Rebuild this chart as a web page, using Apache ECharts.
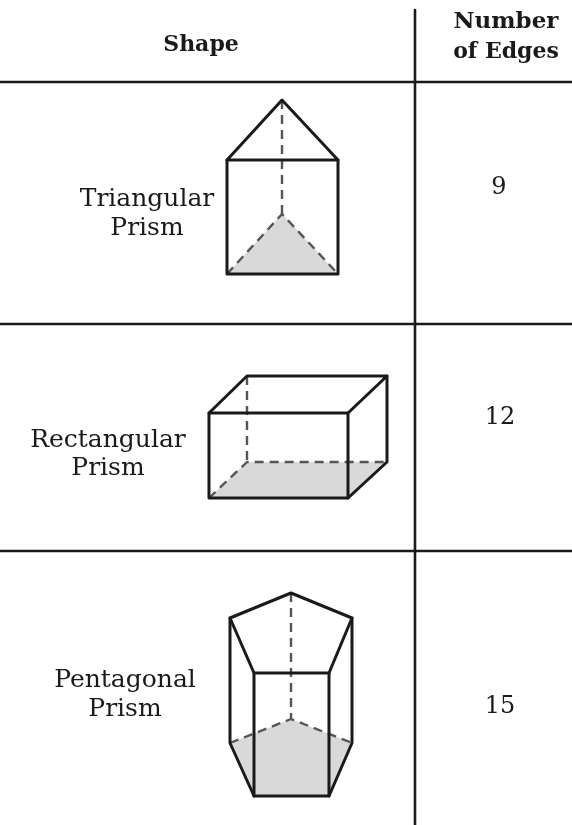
<!DOCTYPE html>
<html>
<head>
<meta charset="utf-8">
<script src="https://cdn.jsdelivr.net/npm/echarts@6/dist/echarts.min.js"></script>
<style>
html, body { margin: 0; padding: 0; background: #fff; }
#main { width: 572px; height: 825px; filter: blur(0.6px); }
</style>
</head>
<body>
<div id="main"></div>
<script>
// table text
var headerShape = "Shape";
var headerEdges = ["Number", "of Edges"];
var shapeNames = [["Triangular", "Prism"], ["Rectangular", "Prism"], ["Pentagonal", "Prism"]];
var edgeCounts = ["9", "12", "15"];

// table rules
var ruleRows = [82, 324, 551];
var ruleColumn = 415;

// triangular prism
var triFill = [[227, 274], [282, 214], [338, 274]];
var triSolid = [
    [[227, 160], [282, 100], [338, 160], [227, 160]],
    [[227, 160], [227, 274], [338, 274], [338, 160]]
];
var triDashed = [
    [[282, 100], [282, 214]],
    [[227, 274], [282, 214], [338, 274]]
];

// rectangular prism
var rectFill = [[209, 498], [247, 462], [387, 462], [348, 498]];
var rectSolid = [
    [[209, 413], [348, 413], [348, 498], [209, 498], [209, 413]],
    [[209, 413], [247, 376], [387, 376], [348, 413]],
    [[387, 376], [387, 462], [348, 498]]
];
var rectDashed = [
    [[247, 376], [247, 462]],
    [[209, 498], [247, 462], [387, 462]]
];

// pentagonal prism
var pentFill = [[230, 743], [291, 719], [352, 743], [329, 796], [254, 796]];
var pentSolid = [
    [[230, 618], [291, 593], [352, 618], [329, 673], [254, 673], [230, 618]],
    [[230, 618], [230, 743], [254, 796], [329, 796], [352, 743], [352, 618]],
    [[254, 673], [254, 796]],
    [[329, 673], [329, 796]]
];
var pentDashed = [
    [[291, 593], [291, 719]],
    [[230, 743], [291, 719], [352, 743]]
];

var serif = '"DejaVu Serif", serif';
var ink = '#1a1a1a';

function solid(points, width) {
    return {
        type: 'line', data: points, symbol: 'none', silent: true, z: 3,
        lineStyle: { color: ink, width: width || 3, join: 'round', cap: 'round' }
    };
}
function dashed(points) {
    return {
        type: 'line', data: points, symbol: 'none', silent: true, z: 2,
        lineStyle: { color: '#555', width: 2.4, type: [9, 6] }
    };
}
function fill(points) {
    return {
        type: 'custom', data: [0], silent: true, z: 1,
        renderItem: function (params, api) {
            return {
                type: 'polygon',
                shape: { points: points.map(function (p) { return api.coord(p); }) },
                style: { fill: '#d9d9d9' }
            };
        }
    };
}
function text(x, y, str, size, bold) {
    return {
        type: 'scatter', data: [[x, y]], symbolSize: 0, silent: true, z: 4,
        itemStyle: { opacity: 1 },
        label: {
            show: true, position: 'inside', formatter: str, color: ink, opacity: 1,
            fontFamily: serif, fontSize: size, fontWeight: bold ? 'bold' : 'normal'
        }
    };
}

var series = [];
[triFill, rectFill, pentFill].forEach(function (p) { series.push(fill(p)); });
[triDashed, rectDashed, pentDashed].forEach(function (g) {
    g.forEach(function (p) { series.push(dashed(p)); });
});
[triSolid, rectSolid, pentSolid].forEach(function (g) {
    g.forEach(function (p) { series.push(solid(p)); });
});
ruleRows.forEach(function (y) { series.push(solid([[0, y], [572, y]], 2.6)); });
series.push(solid([[ruleColumn, 10], [ruleColumn, 825]], 2.6));

series.push(text(201, 45, headerShape, 22, true));
series.push(text(506, 22, headerEdges[0], 23, true));
series.push(text(506, 52, headerEdges[1], 22, true));

var nameCentres = [[147, 199, 228], [108, 440, 468], [125, 680, 709]];
shapeNames.forEach(function (name, i) {
    series.push(text(nameCentres[i][0], nameCentres[i][1], name[0], 25));
    series.push(text(nameCentres[i][0], nameCentres[i][2], name[1], 25));
});

var countCentres = [[499, 188], [500, 418], [500, 707]];
edgeCounts.forEach(function (n, i) {
    series.push(text(countCentres[i][0], countCentres[i][1], n, 24));
});

var myChart = echarts.init(document.getElementById('main'));
myChart.setOption({
    animation: false,
    backgroundColor: '#fff',
    grid: { left: 0, right: 0, top: 0, bottom: 0 },
    xAxis: { type: 'value', min: 0, max: 572, show: false },
    yAxis: { type: 'value', min: 0, max: 825, inverse: true, show: false },
    series: series
});
</script>
</body>
</html>
